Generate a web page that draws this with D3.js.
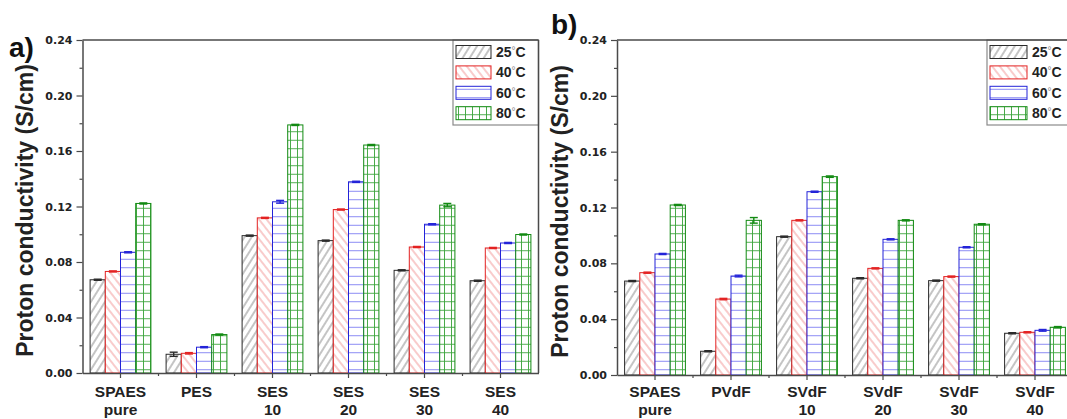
<!DOCTYPE html>
<html>
<head>
<meta charset="utf-8">
<script src="https://cdn.jsdelivr.net/npm/d3@7"></script>
<style>
  body { margin: 0; background: #fff; }
  svg { display: block; }
</style>
</head>
<body>
<svg id="chart" width="1067" height="419"></svg>
<script>
// ---- data ----
const tempLabels = ["25", "40", "60", "80"];
const yTicks = [0, 0.04, 0.08, 0.12, 0.16, 0.20, 0.24];
const yMinor = [0.02, 0.06, 0.10, 0.14, 0.18, 0.22];

// panel a: SPAES vs. SES blends
const catsA = ["SPAES|pure", "PES", "SES|10", "SES|20", "SES|30", "SES|40"];
const a25 = [0.0672, 0.0135, 0.0990, 0.0954, 0.0740, 0.0665];
const a40 = [0.0732, 0.0142, 0.1118, 0.1178, 0.0908, 0.0901];
const a60 = [0.0870, 0.0186, 0.1234, 0.1378, 0.1072, 0.0937];
const a80 = [0.1222, 0.0277, 0.1788, 0.1643, 0.1210, 0.0998];
const errA25 = [0.0004, 0.0015, 0.0004, 0.0004, 0.0004, 0.0004];
const errA40 = [0.0004, 0.0005, 0.0004, 0.0004, 0.0004, 0.0004];
const errA60 = [0.0004, 0.0004, 0.0010, 0.0004, 0.0004, 0.0004];
const errA80 = [0.0004, 0.0004, 0.0004, 0.0004, 0.0012, 0.0004];

// panel b: SPAES vs. SVdF blends
const catsB = ["SPAES|pure", "PVdF", "SVdF|10", "SVdF|20", "SVdF|30", "SVdF|40"];
const b25 = [0.0673, 0.0170, 0.0991, 0.0693, 0.0676, 0.0299];
const b40 = [0.0733, 0.0544, 0.1108, 0.0764, 0.0705, 0.0306];
const b60 = [0.0867, 0.0709, 0.1313, 0.0972, 0.0915, 0.0320];
const b80 = [0.1218, 0.1108, 0.1421, 0.1108, 0.1080, 0.0342];
const errB25 = [0.0004, 0.0004, 0.0004, 0.0004, 0.0004, 0.0004];
const errB40 = [0.0004, 0.0005, 0.0004, 0.0004, 0.0004, 0.0004];
const errB60 = [0.0004, 0.0006, 0.0004, 0.0004, 0.0004, 0.0006];
const errB80 = [0.0004, 0.0020, 0.0005, 0.0004, 0.0004, 0.0005];

// ---- styles per temperature ----
const outline = ["#2a2a2a", "#e32222", "#2323d8", "#128a12"];
const patternIds = ["hatch25", "hatch40", "hatch60", "hatch80"];

const svg = d3.select("#chart");
const defs = svg.append("defs");

function linePattern(id, w, h, rot, color, lines) {
  const p = defs.append("pattern")
    .attr("id", id)
    .attr("patternUnits", "userSpaceOnUse")
    .attr("width", w).attr("height", h);
  if (rot) p.attr("patternTransform", `rotate(${rot})`);
  p.append("rect").attr("width", w).attr("height", h).attr("fill", "#fff");
  lines.forEach(l => p.append("line")
    .attr("x1", l[0]).attr("y1", l[1]).attr("x2", l[2]).attr("y2", l[3])
    .attr("stroke", color).attr("stroke-width", 0.9));
}
linePattern("hatch25", 6, 10, 32, "#7c7c7c", [[3, 0, 3, 10]]);
linePattern("hatch40", 6, 10, -38, "#f08c8c", [[3, 0, 3, 10]]);
linePattern("hatch60", 10, 8.5, 0, "#7b7bf2", [[0, 4.25, 10, 4.25]]);
linePattern("hatch80", 7, 8.5, 0, "#3aa33a", [[0, 4.25, 7, 4.25], [3.5, 0, 3.5, 8.5]]);

const font = "'Liberation Sans', Arial, sans-serif";
const tickFont = "'DejaVu Sans', sans-serif";
const axisColor = "#4a4a4a";

function drawPanel(opt) {
  const { cats, series, errs, left, right, y0, y1, letter, letterX, letterY, titleX, legendX, swatchW } = opt;
  const g = svg.append("g");

  const x = d3.scaleBand().domain(cats).range([left, right])
    .paddingInner(0.2).paddingOuter(0.1);
  const xs = d3.scaleBand().domain(tempLabels).range([0, x.bandwidth()]);
  const y = d3.scaleLinear().domain([0, 0.24]).range([y0, y1]);

  // bars
  series.forEach((vals, si) => {
    g.append("g").selectAll("rect").data(vals).join("rect")
      .attr("x", (d, i) => x(cats[i]) + xs(tempLabels[si]))
      .attr("y", d => y(d))
      .attr("width", xs.bandwidth())
      .attr("height", d => y(0) - y(d))
      .attr("fill", `url(#${patternIds[si]})`)
      .attr("stroke", outline[si])
      .attr("stroke-width", 1);
  });

  // error bars
  series.forEach((vals, si) => {
    const eg = g.append("g").attr("stroke", outline[si]).attr("stroke-width", 1.4);
    vals.forEach((v, i) => {
      const cx = x(cats[i]) + xs(tempLabels[si]) + xs.bandwidth() / 2;
      const e = errs[si][i];
      eg.append("line").attr("x1", cx).attr("x2", cx).attr("y1", y(v - e)).attr("y2", y(v + e));
      [v - e, v + e].forEach(t => eg.append("line")
        .attr("x1", cx - 4).attr("x2", cx + 4).attr("y1", y(t)).attr("y2", y(t)));
    });
  });

  // y axis
  const ya = g.append("g").attr("transform", `translate(${left},0)`)
    .call(d3.axisLeft(y).tickValues(yTicks).tickSize(6).tickSizeOuter(0)
      .tickPadding(4).tickFormat(d3.format(".2f")));
  ya.select(".domain").attr("stroke", axisColor).attr("stroke-width", 1.5);
  ya.selectAll(".tick line").attr("stroke", axisColor).attr("stroke-width", 1.2);
  ya.selectAll(".tick text").attr("font-family", tickFont).attr("font-weight", "bold")
    .attr("font-size", 11).attr("fill", "#222");
  const ym = g.append("g").attr("transform", `translate(${left},0)`)
    .call(d3.axisLeft(y).tickValues(yMinor).tickSize(3).tickSizeOuter(0).tickFormat(""));
  ym.select(".domain").remove();
  ym.selectAll(".tick line").attr("stroke", axisColor).attr("stroke-width", 1.2);

  // x axis
  const xa = g.append("g").attr("transform", `translate(0,${y0})`)
    .call(d3.axisBottom(x).tickSize(5).tickSizeOuter(0).tickFormat(""));
  xa.select(".domain").attr("stroke", axisColor).attr("stroke-width", 1.5);
  xa.selectAll(".tick line").attr("stroke", axisColor).attr("stroke-width", 1.2);
  d3.range(1, cats.length).forEach(k => {
    const bx = x.range()[0] + k * x.step();
    g.append("line").attr("x1", bx).attr("x2", bx).attr("y1", y0).attr("y2", y0 + 3)
      .attr("stroke", axisColor).attr("stroke-width", 1.2);
  });
  cats.forEach(c => {
    const parts = c.split("|");
    const t = g.append("text")
      .attr("x", x(c) + x.bandwidth() / 2)
      .attr("text-anchor", "middle")
      .attr("font-family", font).attr("font-weight", "bold")
      .attr("font-size", 15.5).attr("fill", "#222");
    parts.forEach((p, pi) => t.append("tspan")
      .attr("x", x(c) + x.bandwidth() / 2)
      .attr("y", 397 + pi * 18).text(p));
  });

  // axis title
  g.append("text")
    .attr("transform", `translate(${titleX},${(y0 + y1) / 2 + 4}) rotate(-90)`)
    .attr("text-anchor", "middle")
    .attr("font-family", font).attr("font-weight", "bold")
    .attr("font-size", 23).attr("fill", "#222")
    .text("Proton conductivity (S/cm)");

  // panel letter
  g.append("text").attr("x", letterX).attr("y", letterY)
    .attr("font-family", font).attr("font-weight", "bold")
    .attr("font-size", 28).attr("fill", "#111").text(letter);

  // legend
  const lg = g.append("g");
  lg.append("rect").attr("x", legendX).attr("y", y1)
    .attr("width", right - legendX).attr("height", 85)
    .attr("fill", "#fff").attr("stroke", "#8a8a8a").attr("stroke-width", 1.2);
  tempLabels.forEach((tl, i) => {
    const cy = y1 + 12 + i * 20.4;
    lg.append("rect").attr("x", legendX + 3).attr("y", cy - 6.5)
      .attr("width", swatchW).attr("height", 13)
      .attr("fill", `url(#${patternIds[i]})`)
      .attr("stroke", outline[i]).attr("stroke-width", 1);
    const t = lg.append("text").attr("x", legendX + swatchW + 8).attr("y", cy + 5)
      .attr("font-family", font).attr("font-weight", "bold")
      .attr("font-size", 14).attr("fill", "#222");
    t.append("tspan").text(tl);
    t.append("tspan").attr("font-weight", "normal").attr("font-size", 10)
      .attr("fill", "#888").attr("dy", -3).text("°");
    t.append("tspan").attr("dy", 3).text("C");
  });

  // frame edges (top and right), drawn over the legend box
  g.append("line").attr("x1", left).attr("x2", right).attr("y1", y1).attr("y2", y1)
    .attr("stroke", axisColor).attr("stroke-width", 1.5);
  g.append("line").attr("x1", right).attr("x2", right).attr("y1", y1).attr("y2", y0)
    .attr("stroke", axisColor).attr("stroke-width", 1.5);
}

drawPanel({
  cats: catsA,
  series: [a25, a40, a60, a80],
  errs: [errA25, errA40, errA60, errA80],
  left: 82.5, right: 538.5, y0: 373, y1: 40,
  letter: "a)", letterX: 9, letterY: 57, titleX: 33,
  legendX: 453, swatchW: 35
});

drawPanel({
  cats: catsB,
  series: [b25, b40, b60, b80],
  errs: [errB25, errB40, errB60, errB80],
  left: 617, right: 1073, y0: 375, y1: 40,
  letter: "b)", letterX: 551, letterY: 34, titleX: 568,
  legendX: 987, swatchW: 37
});
</script>
</body>
</html>
